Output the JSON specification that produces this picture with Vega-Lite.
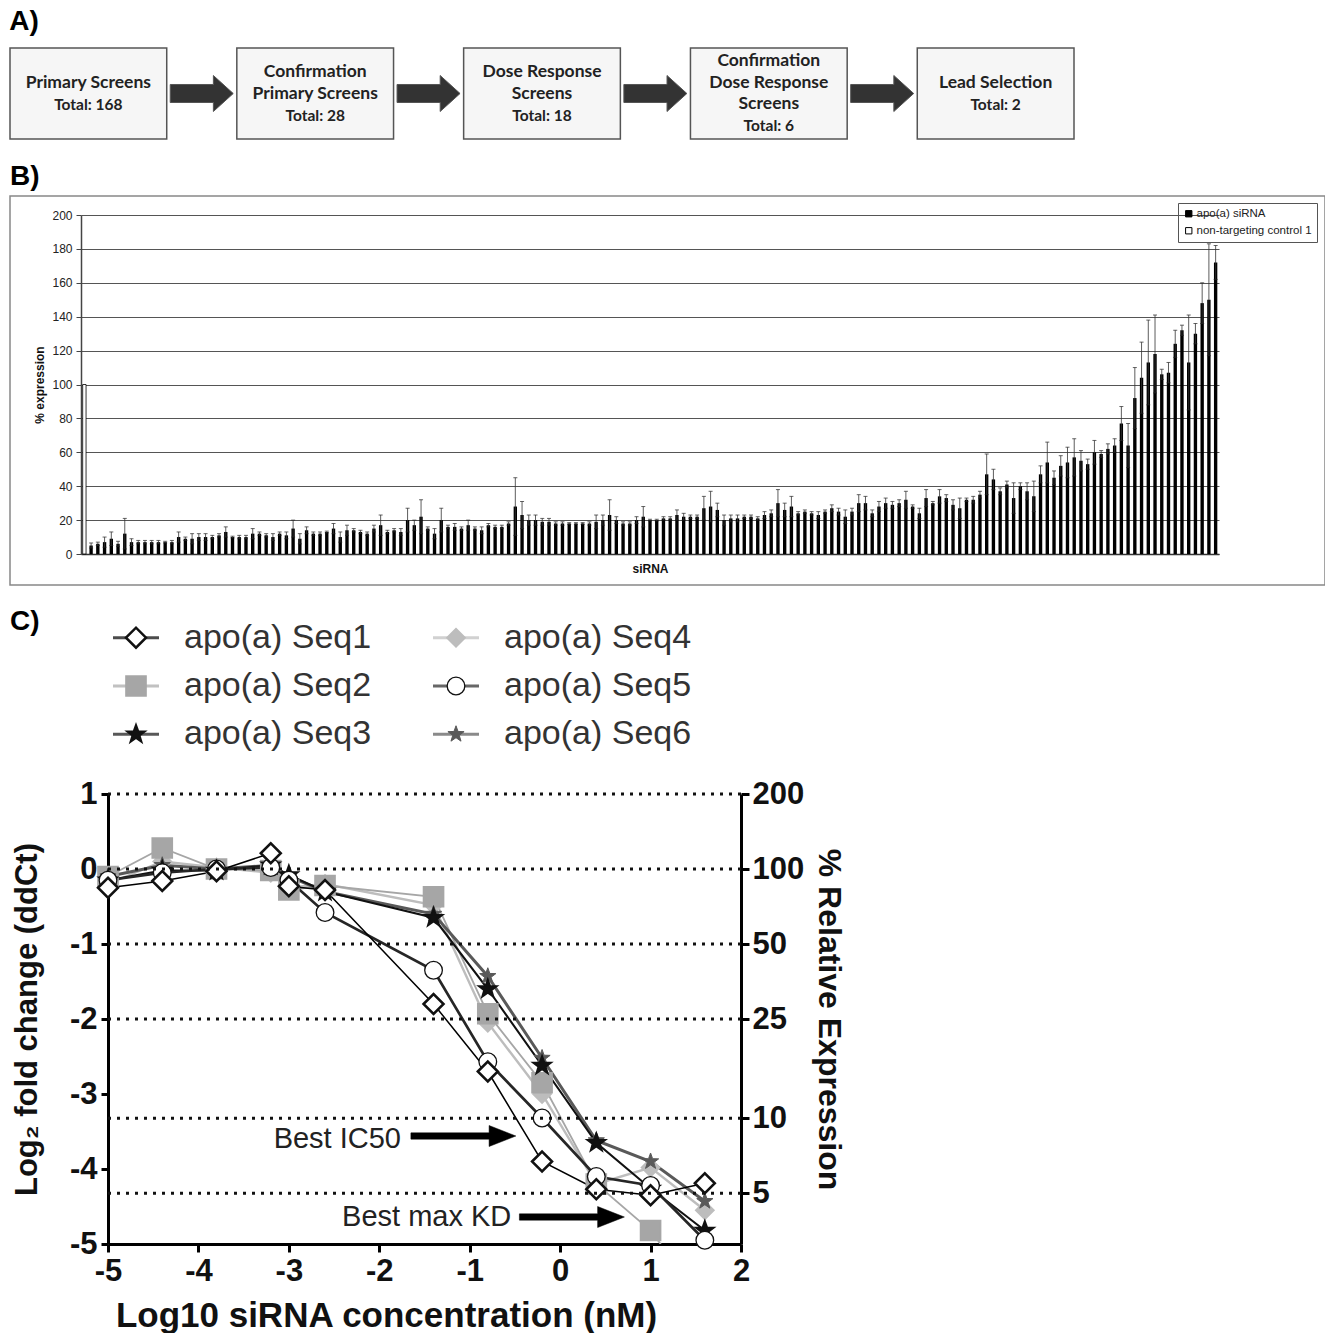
{
"$schema": "https://vega.github.io/schema/vega-lite/v6.json",
"background": "white",
"padding": {"left": 9, "top": 8, "right": 0, "bottom": 0},
"spacing": 22,
"config": {
  "view": {"stroke": null},
  "font": "Liberation Sans",
  "title": {"fontSize": 28, "fontWeight": "bold", "anchor": "start", "font": "Liberation Sans", "color": "#000"}
},
"resolve": {"scale": {"fill": "independent", "stroke": "independent", "color": "independent", "shape": "independent", "size": "independent", "strokeWidth": "independent"}, "legend": {"fill": "independent"}},
"datasets": {
  "bars": [
{"i":1,"v":5,"e":1.5},{"i":2,"v":6,"e":1},{"i":3,"v":7,"e":3},{"i":4,"v":9,"e":4},{"i":5,"v":6,"e":1.5},{"i":6,"v":12,"e":9},{"i":7,"v":7,"e":2},{"i":8,"v":7,"e":1},{"i":9,"v":7,"e":1},{"i":10,"v":7,"e":1},
{"i":11,"v":7,"e":1},{"i":12,"v":7,"e":0.5},{"i":13,"v":7,"e":1},{"i":14,"v":10,"e":3},{"i":15,"v":9,"e":1},{"i":16,"v":9,"e":3},{"i":17,"v":10,"e":2},{"i":18,"v":10,"e":2},{"i":19,"v":10,"e":1},{"i":20,"v":11,"e":1},
{"i":21,"v":13,"e":3},{"i":22,"v":10,"e":0.5},{"i":23,"v":10,"e":1},{"i":24,"v":10,"e":1},{"i":25,"v":12,"e":3},{"i":26,"v":12,"e":1},{"i":27,"v":11,"e":1},{"i":28,"v":10,"e":2},{"i":29,"v":12,"e":1},{"i":30,"v":11,"e":2},
{"i":31,"v":15,"e":5},{"i":32,"v":9,"e":3},{"i":33,"v":14,"e":2},{"i":34,"v":12,"e":1},{"i":35,"v":12,"e":1},{"i":36,"v":13,"e":0.5},{"i":37,"v":15,"e":3},{"i":38,"v":10,"e":3},{"i":39,"v":14,"e":3},{"i":40,"v":14,"e":1},
{"i":41,"v":13,"e":1},{"i":42,"v":12,"e":1},{"i":43,"v":15,"e":2},{"i":44,"v":17,"e":6},{"i":45,"v":13,"e":1},{"i":46,"v":14,"e":1},{"i":47,"v":13,"e":2},{"i":48,"v":20,"e":7},{"i":49,"v":17,"e":3},{"i":50,"v":22,"e":10},
{"i":51,"v":15,"e":1},{"i":52,"v":12,"e":3},{"i":53,"v":20,"e":7},{"i":54,"v":16,"e":1},{"i":55,"v":16,"e":2},{"i":56,"v":15,"e":1},{"i":57,"v":17,"e":3},{"i":58,"v":15,"e":1},{"i":59,"v":14,"e":2},{"i":60,"v":17,"e":1},
{"i":61,"v":16,"e":1},{"i":62,"v":16,"e":1},{"i":63,"v":18,"e":1},{"i":64,"v":28,"e":17},{"i":65,"v":23,"e":8},{"i":66,"v":20,"e":3},{"i":67,"v":20,"e":3},{"i":68,"v":19,"e":2},{"i":69,"v":19,"e":2},{"i":70,"v":18,"e":1},
{"i":71,"v":18,"e":1},{"i":72,"v":18,"e":0.5},{"i":73,"v":18,"e":0.5},{"i":74,"v":18,"e":0.5},{"i":75,"v":18,"e":1},{"i":76,"v":19,"e":4},{"i":77,"v":20,"e":3},{"i":78,"v":23,"e":9},{"i":79,"v":20,"e":2},{"i":80,"v":18,"e":1},
{"i":81,"v":18,"e":1},{"i":82,"v":20,"e":2},{"i":83,"v":22,"e":6},{"i":84,"v":20,"e":0.5},{"i":85,"v":20,"e":0.5},{"i":86,"v":21,"e":1},{"i":87,"v":21,"e":1},{"i":88,"v":23,"e":3},{"i":89,"v":22,"e":2},{"i":90,"v":22,"e":1},
{"i":91,"v":22,"e":1},{"i":92,"v":27,"e":7},{"i":93,"v":28,"e":9},{"i":94,"v":26,"e":4},{"i":95,"v":20,"e":3},{"i":96,"v":21,"e":2},{"i":97,"v":21,"e":2},{"i":98,"v":22,"e":1},{"i":99,"v":22,"e":1},{"i":100,"v":21,"e":1},
{"i":101,"v":23,"e":2},{"i":102,"v":24,"e":2},{"i":103,"v":30,"e":8},{"i":104,"v":26,"e":4},{"i":105,"v":28,"e":6},{"i":106,"v":24,"e":1},{"i":107,"v":25,"e":1},{"i":108,"v":24,"e":1},{"i":109,"v":23,"e":2},{"i":110,"v":25,"e":1},
{"i":111,"v":27,"e":2},{"i":112,"v":25,"e":2},{"i":113,"v":22,"e":4},{"i":114,"v":25,"e":2},{"i":115,"v":30,"e":5},{"i":116,"v":30,"e":4},{"i":117,"v":24,"e":2},{"i":118,"v":28,"e":3},{"i":119,"v":30,"e":3},{"i":120,"v":29,"e":2},
{"i":121,"v":30,"e":2},{"i":122,"v":32,"e":5},{"i":123,"v":28,"e":1},{"i":124,"v":24,"e":3},{"i":125,"v":33,"e":5},{"i":126,"v":30,"e":1},{"i":127,"v":34,"e":4},{"i":128,"v":33,"e":2},{"i":129,"v":29,"e":3},{"i":130,"v":27,"e":6},
{"i":131,"v":32,"e":1},{"i":132,"v":32,"e":2},{"i":133,"v":35,"e":2},{"i":134,"v":47,"e":12},{"i":135,"v":44,"e":6},{"i":136,"v":37,"e":2},{"i":137,"v":41,"e":2},{"i":138,"v":33,"e":9},{"i":139,"v":40,"e":2},{"i":140,"v":37,"e":5},
{"i":141,"v":34,"e":9},{"i":142,"v":47,"e":5},{"i":143,"v":54,"e":12},{"i":144,"v":45,"e":4},{"i":145,"v":52,"e":6},{"i":146,"v":54,"e":9},{"i":147,"v":57,"e":11},{"i":148,"v":55,"e":6},{"i":149,"v":53,"e":3},{"i":150,"v":60,"e":7},
{"i":151,"v":59,"e":2},{"i":152,"v":62,"e":3},{"i":153,"v":64,"e":4},{"i":154,"v":77,"e":10},{"i":155,"v":64,"e":13},{"i":156,"v":92,"e":18},{"i":157,"v":104,"e":21},{"i":158,"v":113,"e":25},{"i":159,"v":118,"e":23},{"i":160,"v":106,"e":3},
{"i":161,"v":107,"e":6},{"i":162,"v":124,"e":8},{"i":163,"v":132,"e":3},{"i":164,"v":113,"e":28},{"i":165,"v":130,"e":6},{"i":166,"v":148,"e":12},{"i":167,"v":150,"e":33},{"i":168,"v":172,"e":10}
  ],
  "doses": [
{"s":"apo(a) Seq4","d":-5,"v":-0.2},{"s":"apo(a) Seq4","d":-4.4,"v":0.1},{"s":"apo(a) Seq4","d":-3.8,"v":0.02},{"s":"apo(a) Seq4","d":-3.2,"v":-0.05},{"s":"apo(a) Seq4","d":-3.0,"v":-0.25},{"s":"apo(a) Seq4","d":-2.6,"v":-0.2},{"s":"apo(a) Seq4","d":-1.4,"v":-0.48},{"s":"apo(a) Seq4","d":-0.8,"v":-2.05},{"s":"apo(a) Seq4","d":-0.2,"v":-3.0},{"s":"apo(a) Seq4","d":0.4,"v":-4.2},{"s":"apo(a) Seq4","d":1.0,"v":-3.98},{"s":"apo(a) Seq4","d":1.6,"v":-4.55},
{"s":"apo(a) Seq2","d":-5,"v":-0.1},{"s":"apo(a) Seq2","d":-4.4,"v":0.28},{"s":"apo(a) Seq2","d":-3.8,"v":0.0},{"s":"apo(a) Seq2","d":-3.2,"v":-0.02},{"s":"apo(a) Seq2","d":-3.0,"v":-0.28},{"s":"apo(a) Seq2","d":-2.6,"v":-0.22},{"s":"apo(a) Seq2","d":-1.4,"v":-0.37},{"s":"apo(a) Seq2","d":-0.8,"v":-1.93},{"s":"apo(a) Seq2","d":-0.2,"v":-2.85},{"s":"apo(a) Seq2","d":0.4,"v":-4.2},{"s":"apo(a) Seq2","d":1.0,"v":-4.82},{"s":"apo(a) Seq2","d":1.6,"v":-5.8},
{"s":"apo(a) Seq6","d":-5,"v":-0.1},{"s":"apo(a) Seq6","d":-4.4,"v":0.05},{"s":"apo(a) Seq6","d":-3.8,"v":0.0},{"s":"apo(a) Seq6","d":-3.2,"v":0.05},{"s":"apo(a) Seq6","d":-3.0,"v":-0.1},{"s":"apo(a) Seq6","d":-2.6,"v":-0.3},{"s":"apo(a) Seq6","d":-1.4,"v":-0.6},{"s":"apo(a) Seq6","d":-0.8,"v":-1.43},{"s":"apo(a) Seq6","d":-0.2,"v":-2.52},{"s":"apo(a) Seq6","d":0.4,"v":-3.62},{"s":"apo(a) Seq6","d":1.0,"v":-3.9},{"s":"apo(a) Seq6","d":1.6,"v":-4.43},
{"s":"apo(a) Seq3","d":-5,"v":-0.15},{"s":"apo(a) Seq3","d":-4.4,"v":-0.02},{"s":"apo(a) Seq3","d":-3.8,"v":-0.02},{"s":"apo(a) Seq3","d":-3.2,"v":0.05},{"s":"apo(a) Seq3","d":-3.0,"v":-0.08},{"s":"apo(a) Seq3","d":-2.6,"v":-0.3},{"s":"apo(a) Seq3","d":-1.4,"v":-0.65},{"s":"apo(a) Seq3","d":-0.8,"v":-1.6},{"s":"apo(a) Seq3","d":-0.2,"v":-2.62},{"s":"apo(a) Seq3","d":0.4,"v":-3.65},{"s":"apo(a) Seq3","d":1.0,"v":-4.26},{"s":"apo(a) Seq3","d":1.6,"v":-4.82},
{"s":"apo(a) Seq5","d":-5,"v":-0.15},{"s":"apo(a) Seq5","d":-4.4,"v":-0.05},{"s":"apo(a) Seq5","d":-3.8,"v":0.0},{"s":"apo(a) Seq5","d":-3.2,"v":0.02},{"s":"apo(a) Seq5","d":-3.0,"v":-0.15},{"s":"apo(a) Seq5","d":-2.6,"v":-0.58},{"s":"apo(a) Seq5","d":-1.4,"v":-1.35},{"s":"apo(a) Seq5","d":-0.8,"v":-2.57},{"s":"apo(a) Seq5","d":-0.2,"v":-3.32},{"s":"apo(a) Seq5","d":0.4,"v":-4.1},{"s":"apo(a) Seq5","d":1.0,"v":-4.22},{"s":"apo(a) Seq5","d":1.6,"v":-4.95},
{"s":"apo(a) Seq1","d":-5,"v":-0.25},{"s":"apo(a) Seq1","d":-4.4,"v":-0.16},{"s":"apo(a) Seq1","d":-3.8,"v":-0.03},{"s":"apo(a) Seq1","d":-3.2,"v":0.21},{"s":"apo(a) Seq1","d":-3.0,"v":-0.23},{"s":"apo(a) Seq1","d":-2.6,"v":-0.28},{"s":"apo(a) Seq1","d":-1.4,"v":-1.8},{"s":"apo(a) Seq1","d":-0.8,"v":-2.7},{"s":"apo(a) Seq1","d":-0.2,"v":-3.9},{"s":"apo(a) Seq1","d":0.4,"v":-4.27},{"s":"apo(a) Seq1","d":1.0,"v":-4.35},{"s":"apo(a) Seq1","d":1.6,"v":-4.19}
  ]
},
"vconcat": [
  {
    "title": {"text": "A)", "offset": 11},
    "width": 1064,
    "height": 91,
    "data": {"values": [
      {"b": 1, "t": ["Primary Screens"], "n": "Total: 168"},
      {"b": 2, "t": ["Confirmation", "Primary Screens"], "n": "Total: 28"},
      {"b": 3, "t": ["Dose Response", "Screens"], "n": "Total: 18"},
      {"b": 4, "t": ["Confirmation", "Dose Response", "Screens"], "n": "Total: 6"},
      {"b": 5, "t": ["Lead Selection"], "n": "Total: 2"}
    ]},
    "encoding": {"x": {"field": "b", "type": "ordinal", "axis": null, "scale": {"paddingInner": 0.309, "paddingOuter": 0}}},
    "layer": [
      {"mark": {"type": "rect", "fill": "#f6f6f6", "stroke": "#555555", "strokeWidth": 1.5}},
      {"transform": [{"filter": "datum.b < 5"}],
       "mark": {"type": "point", "shape": "M-1,-0.286L0.37,-0.286L0.37,-0.571L1,0L0.37,0.571L0.37,0.286L-1,0.286Z", "size": 3969, "filled": true, "fill": "#333333", "stroke": "#555555", "strokeWidth": 1, "opacity": 1, "xOffset": 35},
       "encoding": {"x": {"field": "b", "type": "ordinal", "bandPosition": 1}}},
      {"transform": [{"filter": "datum.t.length == 1"}],
       "mark": {"type": "text", "font": "Lato", "fontWeight": "bold", "fontSize": 17.5, "lineHeight": 21.5, "color": "#222222", "baseline": "middle", "align": "center", "dy": -10.5},
       "encoding": {"text": {"field": "t"}}},
      {"transform": [{"filter": "datum.t.length == 2"}],
       "mark": {"type": "text", "font": "Lato", "fontWeight": "bold", "fontSize": 17.5, "lineHeight": 21.5, "color": "#222222", "baseline": "middle", "align": "center", "dy": -21.5},
       "encoding": {"text": {"field": "t"}}},
      {"transform": [{"filter": "datum.t.length == 3"}],
       "mark": {"type": "text", "font": "Lato", "fontWeight": "bold", "fontSize": 17.5, "lineHeight": 21.5, "color": "#222222", "baseline": "middle", "align": "center", "dy": -32.5},
       "encoding": {"text": {"field": "t"}}},
      {"transform": [{"filter": "datum.t.length == 1"}],
       "mark": {"type": "text", "font": "Lato", "fontWeight": "bold", "fontSize": 15.5, "color": "#222222", "baseline": "middle", "align": "center", "dy": 11},
       "encoding": {"text": {"field": "n"}}},
      {"transform": [{"filter": "datum.t.length == 2"}],
       "mark": {"type": "text", "font": "Lato", "fontWeight": "bold", "fontSize": 15.5, "color": "#222222", "baseline": "middle", "align": "center", "dy": 22},
       "encoding": {"text": {"field": "n"}}},
      {"transform": [{"filter": "datum.t.length == 3"}],
       "mark": {"type": "text", "font": "Lato", "fontWeight": "bold", "fontSize": 15.5, "color": "#222222", "baseline": "middle", "align": "center", "dy": 32.5},
       "encoding": {"text": {"field": "n"}}}
    ]
  },
  {
    "title": {"text": "B)", "offset": 5},
    "width": 1315,
    "height": 389,
    "view": {"stroke": "#888888", "strokeWidth": 1.5},
    "encoding": {
      "x": {"field": "i", "type": "ordinal", "scale": {"range": [71, 1209], "paddingInner": 0.5, "paddingOuter": 0.25},
            "axis": {"title": "siRNA", "labels": false, "ticks": false, "grid": false, "offset": -31, "domainColor": "#333333", "domainWidth": 1.5, "titleFontSize": 12, "titleFontWeight": "bold", "titleColor": "#111111", "titlePadding": 9}},
      "y": {"field": "v", "type": "quantitative", "title": "% expression", "scale": {"domain": [0, 200], "range": [358, 19], "nice": false},
            "axis": {"title": "% expression", "offset": -71, "values": [0,20,40,60,80,100,120,140,160,180,200], "labelOverlap": false, "grid": true, "gridColor": "#555555", "gridWidth": 1.2, "domainColor": "#444444", "domainWidth": 1.5, "tickColor": "#444444", "tickSize": 5, "labelFontSize": 12, "labelColor": "#222222", "labelPadding": 4, "labelFlush": false, "titleFontSize": 12, "titleFontWeight": "bold", "titleColor": "#111111", "titlePadding": 5}}
    },
    "layer": [
      {"data": {"values": [{"i": 0, "v": 100}]},
       "mark": {"type": "bar", "stroke": "#000000", "strokeWidth": 0.8},
       "encoding": {
         "fill": {"datum": "non-targeting control 1", "type": "nominal",
                  "scale": {"domain": ["apo(a) siRNA", "non-targeting control 1"], "range": ["#000000", "#ffffff"]},
                  "legend": {"title": null, "orient": "none", "legendX": 1168, "legendY": 7, "strokeColor": "#555555", "padding": 5, "symbolType": "square", "symbolSize": 40, "symbolStrokeColor": "#000000", "symbolStrokeWidth": 1, "labelFontSize": 11.5, "labelFont": "Liberation Sans", "labelColor": "#222222", "rowPadding": 4, "labelOffset": 2}}
       }},
      {"data": {"name": "bars"},
       "mark": {"type": "bar"},
       "encoding": {
         "fill": {"datum": "apo(a) siRNA", "type": "nominal"}
       }},
      {"data": {"name": "bars"},
       "mark": {"type": "errorbar", "ticks": {"size": 4, "color": "#222222"}, "rule": {"color": "#333333", "strokeWidth": 0.8}},
       "encoding": {
         "yError": {"field": "e"}
       }}
    ]
  },
  {
    "title": {"text": "C)", "offset": -20},
    "width": 640,
    "height": 140,
    "data": {"values": [
      {"s": "apo(a) Seq1", "col": 1, "row": 1},
      {"s": "apo(a) Seq2", "col": 1, "row": 2},
      {"s": "apo(a) Seq3", "col": 1, "row": 3},
      {"s": "apo(a) Seq4", "col": 2, "row": 1},
      {"s": "apo(a) Seq5", "col": 2, "row": 2},
      {"s": "apo(a) Seq6", "col": 2, "row": 3}
    ]},
    "encoding": {
      "x": {"field": "col", "type": "quantitative", "scale": {"domain": [0.60625, 2.60625], "nice": false, "zero": false}, "axis": null},
      "y": {"field": "row", "type": "quantitative", "scale": {"domain": [0.55, 3.45], "reverse": true, "nice": false, "zero": false}, "axis": null}
    },
    "layer": [
      {"mark": {"type": "tick", "orient": "horizontal", "size": 46, "thickness": 3},
       "encoding": {"color": {"field": "s", "type": "nominal", "scale": {"domain": ["apo(a) Seq1","apo(a) Seq2","apo(a) Seq3","apo(a) Seq4","apo(a) Seq5","apo(a) Seq6"], "range": ["#000000","#a6a6a6","#111111","#bdbdbd","#262626","#595959"]}, "legend": null}}},
      {"mark": {"type": "point", "filled": true, "opacity": 1},
       "encoding": {
         "shape": {"field": "s", "type": "nominal", "scale": {"domain": ["apo(a) Seq1","apo(a) Seq2","apo(a) Seq3","apo(a) Seq4","apo(a) Seq5","apo(a) Seq6"], "range": ["diamond","square","M0,-1L0.24,-0.33L0.95,-0.31L0.38,0.12L0.59,0.81L0,0.4L-0.59,0.81L-0.38,0.12L-0.95,-0.31L-0.24,-0.33Z","diamond","circle","M0,-1L0.24,-0.33L0.95,-0.31L0.38,0.12L0.59,0.81L0,0.4L-0.59,0.81L-0.38,0.12L-0.95,-0.31L-0.24,-0.33Z"]}, "legend": null},
         "fill": {"field": "s", "type": "nominal", "scale": {"domain": ["apo(a) Seq1","apo(a) Seq2","apo(a) Seq3","apo(a) Seq4","apo(a) Seq5","apo(a) Seq6"], "range": ["#ffffff","#a6a6a6","#111111","#bdbdbd","#ffffff","#595959"]}, "legend": null},
         "stroke": {"field": "s", "type": "nominal", "scale": {"domain": ["apo(a) Seq1","apo(a) Seq2","apo(a) Seq3","apo(a) Seq4","apo(a) Seq5","apo(a) Seq6"], "range": ["#111111","#a6a6a6","#111111","#bdbdbd","#111111","#595959"]}, "legend": null},
         "size": {"field": "s", "type": "ordinal", "scale": {"domain": ["apo(a) Seq1","apo(a) Seq2","apo(a) Seq3","apo(a) Seq4","apo(a) Seq5","apo(a) Seq6"], "range": [400, 290, 170, 200, 300, 256]}, "legend": null},
         "strokeWidth": {"field": "s", "type": "ordinal", "scale": {"domain": ["apo(a) Seq1","apo(a) Seq2","apo(a) Seq3","apo(a) Seq4","apo(a) Seq5","apo(a) Seq6"], "range": [2.5, 1, 1, 1, 4, 1]}, "legend": null}
       }},
      {"mark": {"type": "text", "align": "left", "baseline": "middle", "dx": 48, "fontSize": 34, "font": "Liberation Sans", "color": "#333333"},
       "encoding": {"text": {"field": "s"}}}
    ]
  },
  {
    "width": 731,
    "height": 450,
    "resolve": {"scale": {"y": "independent"}},
    "layer": [
      {
        "resolve": {"scale": {"strokeWidth": "independent"}},
        "layer": [
          {"data": {"name": "doses"},
           "mark": {"type": "line", "clip": true},
           "encoding": {
             "x": {"field": "d", "type": "quantitative", "scale": {"domain": [-5, 2], "range": [98, 731], "nice": false, "zero": false},
                   "axis": {"values": [-5,-4,-3,-2,-1,0,1,2], "labelExpr": "'' + datum.value", "title": "Log10 siRNA concentration (nM)", "titleX": 376, "titleAlign": "center", "grid": false, "domainWidth": 3, "domainColor": "#000000", "tickWidth": 3, "tickSize": 8, "tickColor": "#000000", "labelFontSize": 31, "labelFontWeight": "bold", "labelFont": "Liberation Sans", "labelColor": "#111111", "labelPadding": 4, "labelFlush": false, "labelOverlap": false, "titleFontSize": 35, "titleFontWeight": "bold", "titleFont": "Liberation Sans", "titleColor": "#111111", "titlePadding": 12}},
             "y": {"field": "v", "type": "quantitative", "scale": {"domain": [-5, 1], "nice": false, "zero": false},
                   "axis": {"orient": "left", "offset": -98, "values": [-5,-4,-3,-2,-1,0,1], "labelExpr": "'' + datum.value", "title": "Log₂ fold change (ddCt)", "grid": false, "domainWidth": 3, "domainColor": "#000000", "tickWidth": 3, "tickSize": 7, "tickColor": "#000000", "labelFontSize": 31, "labelFontWeight": "bold", "labelFont": "Liberation Sans", "labelColor": "#111111", "labelPadding": 4, "labelFlush": false, "labelOverlap": false, "titleFontSize": 31, "titleFontWeight": "bold", "titleFont": "Liberation Sans", "titleColor": "#111111", "titlePadding": 26}},
             "color": {"field": "s", "type": "nominal", "scale": {"domain": ["apo(a) Seq1","apo(a) Seq2","apo(a) Seq3","apo(a) Seq4","apo(a) Seq5","apo(a) Seq6"], "range": ["#000000","#a6a6a6","#111111","#bdbdbd","#262626","#595959"]}, "legend": null},
             "strokeWidth": {"field": "s", "type": "ordinal", "scale": {"domain": ["apo(a) Seq1","apo(a) Seq2","apo(a) Seq3","apo(a) Seq4","apo(a) Seq5","apo(a) Seq6"], "range": [1.5, 3, 3, 3, 2.5, 2.5]}, "legend": null}
           }},
          {"data": {"name": "doses"},
           "transform": [{"filter": "datum.v >= -5"}],
           "mark": {"type": "point", "filled": true, "opacity": 1},
           "encoding": {
             "x": {"field": "d", "type": "quantitative"},
             "y": {"field": "v", "type": "quantitative"},
             "shape": {"field": "s", "type": "nominal", "scale": {"domain": ["apo(a) Seq1","apo(a) Seq2","apo(a) Seq3","apo(a) Seq4","apo(a) Seq5","apo(a) Seq6"], "range": ["diamond","square","M0,-1L0.24,-0.33L0.95,-0.31L0.38,0.12L0.59,0.81L0,0.4L-0.59,0.81L-0.38,0.12L-0.95,-0.31L-0.24,-0.33Z","diamond","circle","M0,-1L0.24,-0.33L0.95,-0.31L0.38,0.12L0.59,0.81L0,0.4L-0.59,0.81L-0.38,0.12L-0.95,-0.31L-0.24,-0.33Z"]}, "legend": null},
             "fill": {"field": "s", "type": "nominal", "scale": {"domain": ["apo(a) Seq1","apo(a) Seq2","apo(a) Seq3","apo(a) Seq4","apo(a) Seq5","apo(a) Seq6"], "range": ["#ffffff","#a6a6a6","#111111","#bdbdbd","#ffffff","#595959"]}, "legend": null},
             "stroke": {"field": "s", "type": "nominal", "scale": {"domain": ["apo(a) Seq1","apo(a) Seq2","apo(a) Seq3","apo(a) Seq4","apo(a) Seq5","apo(a) Seq6"], "range": ["#111111","#a6a6a6","#111111","#bdbdbd","#111111","#595959"]}, "legend": null},
             "size": {"field": "s", "type": "ordinal", "scale": {"domain": ["apo(a) Seq1","apo(a) Seq2","apo(a) Seq3","apo(a) Seq4","apo(a) Seq5","apo(a) Seq6"], "range": [400, 290, 170, 200, 300, 256]}, "legend": null},
             "strokeWidth": {"field": "s", "type": "ordinal", "scale": {"domain": ["apo(a) Seq1","apo(a) Seq2","apo(a) Seq3","apo(a) Seq4","apo(a) Seq5","apo(a) Seq6"], "range": [2.5, 1, 1, 1, 4, 1]}, "legend": null}
           }},
          {"data": {"values": [{"label": "Best IC50", "tx": -1.76, "ty": -3.6}, {"label": "Best max KD", "tx": -0.54, "ty": -4.64}]},
           "mark": {"type": "text", "align": "right", "baseline": "middle", "fontSize": 29, "font": "Liberation Sans", "color": "#222222"},
           "encoding": {"x": {"field": "tx", "type": "quantitative"}, "y": {"field": "ty", "type": "quantitative"}, "text": {"field": "label"}}},
          {"data": {"values": [{"ax": -1.07, "ay": -3.56}, {"ax": 0.13, "ay": -4.64}]},
           "mark": {"type": "point", "shape": "M-1,-0.06L0.49,-0.06L0.49,-0.2L1,0L0.49,0.2L0.49,0.06L-1,0.06Z", "size": 11025, "filled": true, "fill": "#000000", "stroke": "#000000", "strokeWidth": 0.5, "opacity": 1},
           "encoding": {"x": {"field": "ax", "type": "quantitative"}, "y": {"field": "ay", "type": "quantitative"}}}
        ]
      },
      {"data": {"values": [{"p": 200}, {"p": 100}, {"p": 50}, {"p": 25}, {"p": 10}, {"p": 5}]},
       "mark": {"type": "rule", "strokeDash": [3, 6], "strokeWidth": 3, "color": "#111111"},
       "encoding": {
         "x": {"datum": -5, "type": "quantitative"},
         "x2": {"datum": 2},
         "y": {"field": "p", "type": "quantitative", "scale": {"type": "log", "base": 2, "domain": [3.125, 200], "nice": false, "zero": false},
         "axis": {"orient": "right", "values": [5, 10, 25, 50, 100, 200], "labelExpr": "'' + datum.value", "title": "% Relative Expression", "grid": false, "domainWidth": 3, "domainColor": "#000000", "tickWidth": 3, "tickSize": 8, "tickColor": "#000000", "labelFontSize": 31, "labelFontWeight": "bold", "labelFont": "Liberation Sans", "labelColor": "#111111", "labelPadding": 3, "labelFlush": false, "labelOverlap": false, "titleFontSize": 32, "titleFontWeight": "bold", "titleFont": "Liberation Sans", "titleColor": "#111111", "titlePadding": 8}}}}
    ]
  }
]
}
